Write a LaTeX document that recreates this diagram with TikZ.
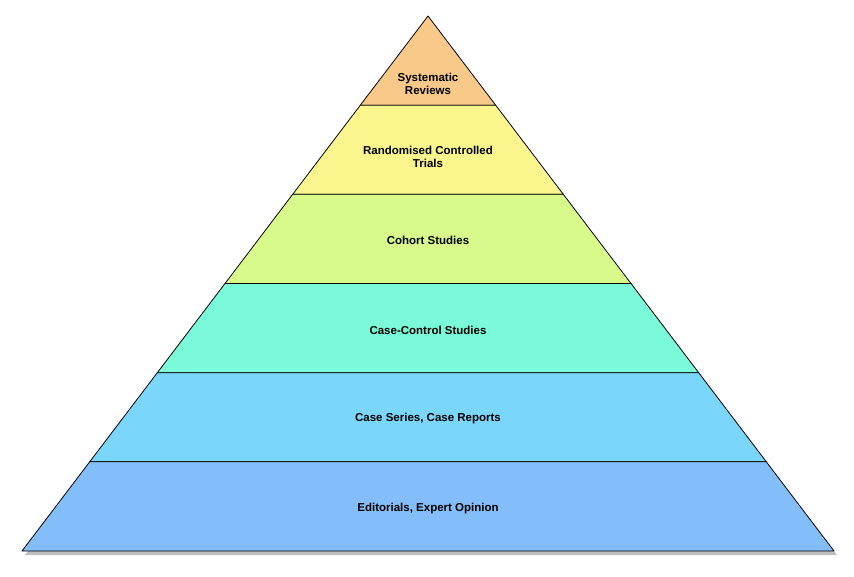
\documentclass[tikz,border=0pt]{standalone}
\usepackage{fontspec}
\setmainfont{Liberation Sans}
\usetikzlibrary{calc}

\definecolor{bandA}{HTML}{F9C98A}
\definecolor{bandB}{HTML}{FAF58C}
\definecolor{bandC}{HTML}{D8FA8A}
\definecolor{bandD}{HTML}{7AFAD8}
\definecolor{bandE}{HTML}{7AD6FA}
\definecolor{bandF}{HTML}{84BEFA}

\tikzset{
    band/.style={draw=black, line width=0.8pt, line join=round},
    label/.style={font=\bfseries\fontsize{11.5}{13}\selectfont, align=center, text=black}
}

\begin{document}
\begin{tikzpicture}[x=1pt, y=-1pt]
        \useasboundingbox (0,0) rectangle (854,576);
        \coordinate (apex) at (428,16);
        \coordinate (BL) at (22,551);
        \coordinate (BR) at (834,551);

        % shadow
        \fill[black, opacity=0.25] ($(apex)+(3,4)$) -- ($(BL)+(3,4)$) -- ($(BR)+(3,4)$) -- cycle;

        % bands, top to bottom
        \foreach \i/\c [evaluate=\i as \t using \i/6, evaluate=\i as \s using (\i-1)/6] in
            {1/bandA, 2/bandB, 3/bandC, 4/bandD, 5/bandE, 6/bandF} {
            \filldraw[band, fill=\c]
                ($(apex)!\s!(BL)$) -- ($(apex)!\t!(BL)$) -- ($(apex)!\t!(BR)$) -- ($(apex)!\s!(BR)$) -- cycle;
        }

        \node (sr) [label] at (428,84) {Systematic\\Reviews};
        \node (rct) [label] at (428,157) {Randomised Controlled\\Trials};
        \node (coh) [label] at (428,240) {Cohort Studies};
        \node (cc) [label] at (428,330) {Case-Control Studies};
        \node (cs) [label] at (428,419) {Case Series, Case Reports};
        \node (eo) [label] at (428,509) {Editorials, Expert Opinion};
    \end{tikzpicture}
\end{document}
